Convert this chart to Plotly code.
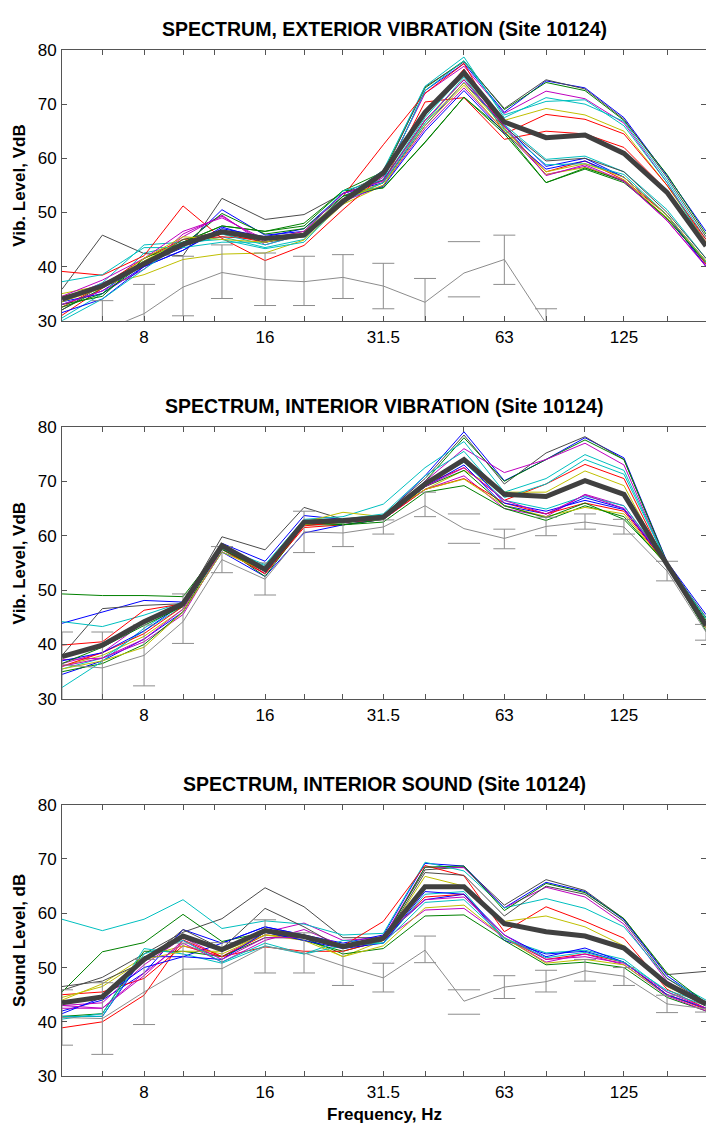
import plotly.graph_objects as go

# One-third octave band centre frequencies (Hz)
FREQ_HZ = [5, 6.3, 8, 10, 12.5, 16, 20, 25, 31.5, 40, 50, 63, 80, 100, 125, 160, 200]
TICK_HZ = [6.3, 8, 10, 12, 16, 20, 25, 31.5, 40, 50, 63, 80, 100, 125, 160]
TICK_TEXT = ["", "8", "", "", "16", "", "", "31.5", "", "", "63", "", "", "125", ""]
Y_TICKS = [30, 40, 50, 60, 70, 80]

# ---- Exterior vibration, VdB: individual train passbys ----
EXT_VIB_RUNS = [
    [33.0, 35.5, 40.5, 43.5, 50.5, 45.8, 46.5, 53.5, 56.0, 72.5, 77.5, 68.5, 74.3, 73.0, 67.5, 56.8, 46.5],
    [32.0, 36.0, 41.0, 44.5, 47.5, 46.5, 48.0, 54.0, 57.5, 73.0, 78.0, 69.0, 74.0, 72.5, 67.0, 57.0, 46.0],
    [35.8, 45.8, 42.4, 42.0, 52.6, 48.7, 49.6, 53.5, 57.0, 73.2, 77.8, 69.2, 74.5, 72.8, 67.2, 56.5, 45.5],
    [34.0, 37.0, 40.0, 45.5, 49.5, 44.0, 46.0, 52.0, 56.5, 72.0, 77.0, 68.3, 72.4, 71.0, 66.5, 55.5, 44.5],
    [30.5, 35.0, 42.5, 44.0, 45.5, 43.5, 45.0, 52.5, 57.8, 73.3, 78.7, 67.5, 71.2, 70.0, 66.8, 56.0, 45.0],
    [35.0, 36.5, 38.5, 41.3, 42.3, 42.5, 44.9, 51.5, 55.0, 67.0, 74.5, 67.0, 69.2, 68.0, 65.0, 55.0, 44.5],
    [31.0, 36.0, 40.5, 44.5, 46.0, 44.5, 46.0, 53.0, 62.5, 72.0, 77.5, 64.5, 68.1, 67.2, 64.5, 55.0, 45.0],
    [32.5, 36.5, 41.5, 45.0, 45.5, 45.0, 46.0, 52.5, 55.5, 70.4, 71.2, 63.5, 65.0, 64.5, 62.0, 54.0, 44.0],
    [33.5, 37.0, 44.0, 44.5, 46.0, 44.0, 46.0, 53.0, 56.0, 72.5, 78.0, 68.0, 70.5, 70.8, 66.0, 55.5, 44.0],
    [33.5, 35.0, 40.0, 43.0, 47.0, 45.5, 47.0, 53.5, 55.5, 66.0, 74.0, 66.0, 58.5, 60.0, 56.5, 49.5, 41.0],
    [33.0, 34.5, 41.5, 44.5, 47.5, 46.5, 47.5, 54.0, 54.5, 63.0, 71.3, 64.5, 55.5, 58.0, 55.5, 49.0, 40.5],
    [39.1, 38.4, 42.0, 51.2, 45.2, 41.1, 43.9, 50.5, 57.0, 68.0, 76.5, 65.5, 57.5, 59.5, 56.0, 49.5, 40.5],
    [37.2, 38.5, 43.5, 43.5, 44.5, 44.5, 46.0, 54.0, 56.0, 67.5, 75.5, 66.2, 59.8, 60.4, 57.5, 50.5, 41.5],
    [33.0, 35.5, 39.5, 46.0, 49.3, 44.5, 46.0, 52.0, 55.0, 65.5, 73.0, 65.0, 57.0, 58.5, 55.7, 48.5, 40.2],
    [34.5, 36.0, 41.0, 45.0, 46.5, 45.0, 46.5, 52.5, 55.5, 66.5, 73.9, 65.5, 57.0, 58.3, 56.0, 49.0, 41.0],
    [32.0, 36.5, 40.5, 45.0, 46.5, 44.5, 45.5, 53.0, 56.0, 67.0, 74.5, 65.8, 59.5, 60.0, 57.5, 50.0, 41.5],
    [31.5, 34.0, 40.0, 43.0, 47.3, 45.0, 45.8, 52.5, 54.8, 65.0, 72.5, 64.7, 58.0, 59.5, 56.5, 49.5, 40.0],
    [32.5, 35.0, 40.5, 44.0, 49.8, 46.0, 47.0, 53.0, 54.6, 62.9, 71.3, 65.0, 55.5, 58.2, 55.8, 48.8, 40.8],
    [30.0, 34.0, 39.5, 44.5, 45.0, 43.3, 44.5, 52.0, 55.5, 66.5, 75.0, 65.3, 58.8, 59.0, 57.0, 49.5, 40.8],
    [34.5, 37.5, 41.5, 46.5, 49.0, 45.0, 46.5, 53.5, 55.8, 67.0, 74.5, 66.0, 56.8, 58.8, 55.8, 48.5, 40.0],
    [33.5, 36.0, 41.5, 45.5, 45.0, 44.5, 46.0, 52.5, 55.0, 66.0, 73.5, 65.0, 57.5, 59.0, 56.5, 49.5, 41.0],
]
EXT_VIB_RUN_COLORS = "bgkmcyrrcbgrcmykbgcmy"
EXT_VIB_MEAN = [34.0, 36.4, 40.5, 44.1, 46.4, 45.2, 45.8, 52.0, 57.3, 68.5, 75.8, 66.7, 63.8, 64.3, 60.9, 53.7, 43.8]
EXT_VIB_AMBIENT = [27.0, 28.1, 31.3, 36.2, 38.9, 37.6, 37.2, 38.0, 36.4, 33.4, 38.8, 41.3, 29.5, 27.0, 26.0, 25.0, 24.0]
EXT_VIB_AMBIENT_HI = [28.5, 33.7, 36.7, 41.9, 44.0, 42.5, 41.9, 42.2, 40.6, 37.8, 44.6, 45.8, 32.2, 28.5, 27.5, 26.5, 25.5]
EXT_VIB_AMBIENT_LO = [25.0, 24.0, 26.0, 30.9, 34.1, 32.8, 32.8, 34.1, 32.2, 28.5, 34.4, 36.7, 25.0, 24.0, 23.0, 22.0, 21.0]

# ---- Interior vibration, VdB ----
INT_VIB_RUNS = [
    [43.9, 46.0, 48.1, 47.8, 58.6, 55.3, 63.7, 63.0, 63.5, 71.0, 79.1, 70.1, 74.0, 78.0, 74.3, 55.2, 45.5],
    [38.0, 46.6, 47.2, 47.5, 59.8, 57.4, 65.2, 63.0, 63.8, 70.5, 78.5, 69.5, 75.2, 78.2, 74.0, 55.0, 45.0],
    [49.3, 49.0, 49.0, 48.8, 58.0, 54.0, 62.5, 62.3, 63.2, 70.0, 78.0, 70.0, 74.0, 77.6, 74.0, 55.0, 44.5],
    [36.5, 38.5, 44.0, 47.0, 57.5, 53.5, 62.3, 62.5, 63.0, 70.0, 76.0, 71.6, 74.0, 77.0, 73.0, 54.8, 44.0],
    [44.2, 43.3, 45.4, 47.8, 57.8, 54.7, 63.0, 63.5, 65.8, 72.5, 77.3, 68.0, 70.5, 74.9, 72.0, 55.0, 44.8],
    [39.9, 40.5, 46.3, 47.5, 58.0, 53.0, 61.5, 62.0, 63.0, 69.5, 72.5, 66.5, 69.5, 73.1, 70.5, 54.5, 43.5],
    [36.0, 38.0, 41.5, 46.5, 57.5, 53.5, 62.5, 64.3, 63.5, 68.5, 72.0, 68.0, 68.0, 71.9, 69.2, 54.3, 43.0],
    [35.5, 37.5, 42.5, 47.0, 57.0, 54.0, 62.8, 63.0, 64.0, 71.0, 75.5, 67.0, 69.5, 74.0, 71.3, 55.0, 44.0],
    [34.5, 37.0, 41.0, 46.0, 57.0, 52.5, 60.5, 62.0, 63.0, 69.0, 73.0, 65.5, 64.0, 67.0, 65.0, 54.5, 43.0],
    [37.2, 37.5, 40.5, 45.5, 57.5, 53.0, 62.0, 62.5, 63.0, 68.5, 71.0, 65.0, 63.5, 67.6, 65.5, 54.8, 43.5],
    [35.0, 36.5, 40.0, 46.0, 58.0, 52.5, 62.0, 62.0, 62.5, 68.0, 69.2, 65.0, 62.8, 65.5, 63.5, 54.5, 42.5],
    [36.0, 38.5, 42.0, 47.0, 57.5, 53.0, 61.8, 62.5, 63.0, 68.5, 70.5, 66.0, 64.0, 66.0, 64.5, 54.6, 43.0],
    [32.1, 36.9, 43.0, 47.5, 57.5, 54.5, 62.5, 63.0, 63.5, 69.5, 73.5, 66.5, 64.9, 67.3, 65.5, 55.0, 44.0],
    [35.5, 37.0, 39.5, 46.0, 57.0, 53.5, 62.0, 63.0, 63.5, 68.5, 70.4, 65.5, 63.5, 65.2, 64.0, 54.5, 43.0],
    [37.0, 38.5, 42.5, 47.5, 57.8, 54.0, 62.5, 62.5, 63.3, 69.5, 74.0, 66.0, 64.5, 66.5, 64.8, 55.0, 44.0],
    [36.5, 39.5, 43.5, 47.0, 57.5, 53.5, 62.5, 62.0, 63.0, 69.0, 72.0, 65.5, 63.3, 66.0, 63.0, 54.8, 43.5],
    [36.0, 37.5, 41.0, 46.5, 58.0, 53.5, 62.5, 62.8, 63.3, 69.0, 72.5, 66.5, 64.0, 67.5, 65.0, 55.0, 43.8],
]
INT_VIB_RUN_COLORS = "bkgmcrycbmgrcybgm"
INT_VIB_MEAN = [37.8, 39.9, 44.2, 47.5, 58.2, 53.8, 62.5, 62.8, 63.4, 69.5, 74.0, 67.6, 67.2, 70.1, 67.6, 54.7, 43.5]
INT_VIB_AMBIENT = [36.3, 35.7, 38.0, 44.2, 55.6, 52.0, 60.7, 60.5, 61.6, 65.5, 61.3, 59.5, 61.7, 62.5, 61.6, 53.5, 42.3]
INT_VIB_AMBIENT_HI = [42.3, 42.3, 43.6, 49.3, 58.0, 55.0, 64.5, 62.6, 62.9, 68.0, 64.0, 61.2, 63.4, 64.0, 63.0, 55.3, 43.7]
INT_VIB_AMBIENT_LO = [28.0, 28.0, 32.4, 40.2, 53.2, 49.1, 56.9, 58.0, 60.3, 63.5, 58.6, 57.6, 60.0, 61.2, 60.3, 51.7, 40.8]

# ---- Interior sound, dB ----
INT_SND_RUNS = [
    [45.8, 48.2, 52.5, 56.5, 59.0, 64.7, 61.2, 55.5, 55.5, 68.0, 68.5, 61.5, 66.2, 64.2, 59.0, 48.7, 49.3],
    [42.0, 44.0, 49.0, 57.0, 54.5, 57.5, 56.0, 54.5, 56.0, 69.2, 68.7, 61.0, 65.7, 64.0, 58.8, 48.5, 43.5],
    [43.0, 43.5, 50.5, 55.5, 52.0, 56.5, 58.2, 55.0, 55.5, 68.5, 68.4, 61.0, 64.8, 63.0, 58.0, 47.5, 43.0],
    [58.9, 56.8, 58.9, 62.5, 57.2, 58.6, 58.0, 56.0, 56.3, 69.4, 67.8, 61.0, 62.7, 60.9, 57.5, 48.0, 44.0],
    [45.0, 45.5, 48.0, 54.0, 52.0, 56.0, 55.5, 54.0, 58.5, 68.8, 66.9, 56.6, 61.2, 58.5, 55.4, 46.0, 42.5],
    [44.0, 47.0, 52.0, 54.0, 52.5, 56.0, 55.5, 52.0, 55.0, 66.8, 65.0, 58.5, 59.5, 57.5, 54.0, 46.5, 43.0],
    [45.5, 52.9, 54.6, 59.8, 54.8, 56.5, 55.0, 53.0, 55.0, 68.5, 68.7, 60.5, 65.5, 63.8, 59.0, 49.0, 43.5],
    [41.0, 41.0, 52.0, 52.0, 54.5, 57.5, 56.0, 54.0, 55.5, 62.5, 63.5, 55.0, 52.5, 53.0, 51.0, 45.0, 42.5],
    [41.0, 41.5, 53.0, 53.0, 52.0, 55.5, 55.5, 52.5, 53.5, 59.5, 59.7, 55.0, 50.5, 51.0, 50.0, 44.5, 42.0],
    [38.9, 40.0, 44.9, 55.1, 52.0, 53.8, 53.0, 53.0, 55.0, 63.0, 63.5, 55.5, 51.5, 52.5, 51.0, 45.0, 42.3],
    [40.5, 41.5, 53.5, 52.5, 50.8, 54.0, 52.5, 55.0, 54.5, 63.5, 64.0, 55.3, 52.7, 53.2, 51.5, 45.5, 43.0],
    [42.5, 42.5, 49.0, 54.5, 51.0, 55.0, 57.0, 54.0, 55.0, 60.6, 60.9, 55.5, 51.0, 52.5, 50.5, 44.8, 42.0],
    [44.5, 46.5, 51.5, 53.0, 53.0, 56.0, 55.0, 52.0, 54.0, 61.0, 61.5, 55.5, 50.8, 51.5, 50.5, 45.0, 42.5],
    [41.5, 44.5, 50.0, 52.0, 51.5, 56.5, 55.0, 53.5, 54.5, 64.0, 63.5, 56.0, 52.0, 53.6, 51.0, 45.0, 42.5],
    [43.0, 42.5, 48.5, 55.0, 51.5, 55.5, 55.5, 54.0, 55.8, 62.5, 63.0, 56.0, 51.5, 52.0, 50.8, 45.5, 42.5],
    [41.0, 41.0, 52.5, 55.0, 51.0, 54.5, 52.5, 54.0, 54.5, 62.0, 62.5, 55.5, 51.8, 52.8, 51.0, 45.8, 43.5],
    [46.5, 47.5, 51.0, 57.0, 53.5, 60.9, 57.5, 53.5, 55.0, 67.5, 67.0, 59.5, 65.0, 63.5, 58.5, 48.0, 43.5],
]
INT_SND_RUN_COLORS = "kbmcrygbgrcmybmck"
INT_SND_MEAN = [43.5, 44.6, 51.5, 55.8, 53.3, 56.8, 55.7, 53.9, 55.4, 64.9, 64.9, 58.1, 56.6, 55.8, 53.6, 47.0, 43.3]
INT_SND_AMBIENT = [40.8, 40.6, 45.5, 49.7, 49.8, 53.9, 52.7, 50.3, 48.1, 53.2, 43.8, 46.4, 47.4, 49.4, 48.4, 43.3, 42.4]
INT_SND_AMBIENT_HI = [45.9, 47.2, 51.5, 54.5, 54.6, 58.8, 56.4, 53.9, 50.8, 55.8, 45.9, 48.5, 49.5, 51.5, 50.0, 44.9, 43.5]
INT_SND_AMBIENT_LO = [35.7, 34.0, 39.5, 45.0, 45.0, 49.0, 49.0, 46.7, 45.5, 50.9, 41.4, 44.3, 45.5, 47.5, 46.7, 41.7, 41.8]

PANELS = [
    ("SPECTRUM, EXTERIOR VIBRATION (Site 10124)", "Vib. Level, VdB",
     EXT_VIB_RUNS, EXT_VIB_RUN_COLORS, EXT_VIB_MEAN, EXT_VIB_AMBIENT, EXT_VIB_AMBIENT_HI, EXT_VIB_AMBIENT_LO),
    ("SPECTRUM, INTERIOR VIBRATION (Site 10124)", "Vib. Level, VdB",
     INT_VIB_RUNS, INT_VIB_RUN_COLORS, INT_VIB_MEAN, INT_VIB_AMBIENT, INT_VIB_AMBIENT_HI, INT_VIB_AMBIENT_LO),
    ("SPECTRUM, INTERIOR SOUND (Site 10124)", "Sound Level, dB",
     INT_SND_RUNS, INT_SND_RUN_COLORS, INT_SND_MEAN, INT_SND_AMBIENT, INT_SND_AMBIENT_HI, INT_SND_AMBIENT_LO),
]

# MATLAB-style line colour codes
COLOR_CODES = {"b": "#0000ff", "g": "#008000", "r": "#ff0000", "c": "#00bfbf",
               "m": "#bf00bf", "y": "#bfbf00", "k": "#4a4a4a"}

W, H = 706, 1133
LEFT = 62
# plot-area vertical extents in pixels (top, bottom)
PANEL_PX = [(41.7, 317.0), (425.0, 701.7), (809.3, 1085.3)]
FONT = "Liberation Sans, Arial, sans-serif"
AXIS_COLOR = "#555555"
AMBIENT_COLOR = "#8c8c8c"
GAP_BAND = 50  # band whose ambient bar is drawn as caps only


def py(px):
    return 1 - px / H


def px_x(px):
    return (px - LEFT) / (W - LEFT)


fig = go.Figure()
annotations = []
layout_axes = {}

for i, (title, ytitle, runs, codes, mean, amb, amb_hi, amb_lo) in enumerate(PANELS):
    n = "" if i == 0 else str(i + 1)
    xa, ya = "x" + n, "y" + n

    for run, code in zip(runs, codes):
        fig.add_trace(go.Scatter(x=FREQ_HZ, y=run, mode="lines", xaxis=xa, yaxis=ya,
                                 line=dict(color=COLOR_CODES[code], width=1),
                                 showlegend=False, hoverinfo="skip"))

    # ambient level with min/max bars
    fig.add_trace(go.Scatter(x=FREQ_HZ, y=amb, mode="lines", xaxis=xa, yaxis=ya,
                             line=dict(color=AMBIENT_COLOR, width=1),
                             showlegend=False, hoverinfo="skip"))
    bx, by, bp, bm = [], [], [], []
    for f, v, hi, lo in zip(FREQ_HZ, amb, amb_hi, amb_lo):
        if f == GAP_BAND:
            fig.add_trace(go.Scatter(x=[f, f], y=[hi, lo], mode="markers", xaxis=xa, yaxis=ya,
                                     marker=dict(symbol="line-ew", size=23,
                                                 line=dict(color=AMBIENT_COLOR, width=1)),
                                     showlegend=False, hoverinfo="skip"))
            continue
        bx.append(f)
        by.append(v)
        bp.append(hi - v)
        bm.append(v - lo)
    fig.add_trace(go.Scatter(x=bx, y=by, mode="markers", xaxis=xa, yaxis=ya,
                             marker=dict(size=1, opacity=0),
                             error_y=dict(type="data", symmetric=False, array=bp, arrayminus=bm,
                                          color=AMBIENT_COLOR, thickness=1, width=11),
                             showlegend=False, hoverinfo="skip"))

    # average spectrum
    fig.add_trace(go.Scatter(x=FREQ_HZ, y=mean, mode="lines", xaxis=xa, yaxis=ya,
                             line=dict(color="#404040", width=5),
                             showlegend=False, hoverinfo="skip"))

    top, bot = PANEL_PX[i]
    dom = [py(bot), py(top)]
    tick_style = dict(showgrid=False, zeroline=False, ticks="inside", ticklen=5,
                      tickcolor=AXIS_COLOR, tickfont=dict(family=FONT, size=17, color="#000000"))
    layout_axes["xaxis" + n] = dict(tick_style, type="log", range=[0.69897, 2.30103], domain=[0, 1],
                                    tickvals=TICK_HZ, ticktext=TICK_TEXT, anchor=ya,
                                    showline=True, linecolor=AXIS_COLOR, linewidth=1,
                                    mirror="ticks", ticklabelstandoff=1)
    layout_axes["yaxis" + n] = dict(tick_style, range=[30, 80], tickvals=Y_TICKS, domain=dom,
                                    anchor=xa, showline=True, linecolor=AXIS_COLOR, linewidth=1,
                                    mirror=False, ticklabelstandoff=1)
    # right-hand tick marks (the frame edge itself falls on the page edge)
    rn = str(i + 4)
    layout_axes["yaxis" + rn] = dict(tick_style, range=[30, 80], tickvals=Y_TICKS, domain=dom,
                                     anchor=xa, overlaying=ya, side="right", showline=False,
                                     showticklabels=False)
    fig.add_trace(go.Scatter(x=[FREQ_HZ[0]], y=[None], mode="markers", xaxis=xa, yaxis="y" + rn,
                             showlegend=False, hoverinfo="skip"))

    annotations.append(dict(text="<b>" + title + "</b>", x=0.5, y=py(top - 21), xref="paper",
                            yref="paper", xanchor="center", yanchor="middle", showarrow=False,
                            font=dict(family=FONT, size=19.5, color="#000000")))
    annotations.append(dict(text="<b>" + ytitle + "</b>", x=px_x(19.5), y=py((top + bot) / 2),
                            xref="paper", yref="paper", xanchor="center", yanchor="middle",
                            textangle=-90, showarrow=False,
                            font=dict(family=FONT, size=17, color="#000000")))

annotations.append(dict(text="<b>Frequency, Hz</b>", x=0.5, y=py(1124), xref="paper", yref="paper",
                        xanchor="center", yanchor="middle", showarrow=False,
                        font=dict(family=FONT, size=17, color="#000000")))

fig.update_layout(width=W, height=H, margin=dict(l=LEFT, r=0, t=0, b=0),
                  paper_bgcolor="white", plot_bgcolor="white", annotations=annotations,
                  **layout_axes)

# page without default body margin so the figure fills the window exactly
fig.write_html("out.html", post_script="document.body.style.margin='0';")
